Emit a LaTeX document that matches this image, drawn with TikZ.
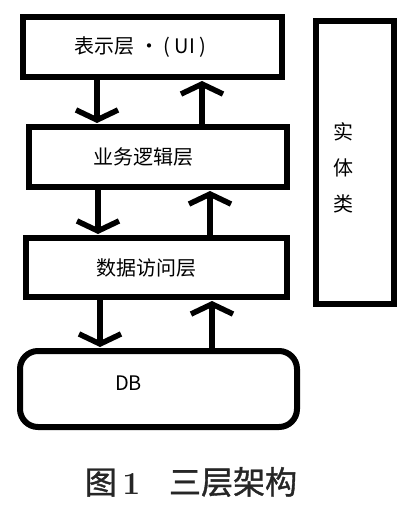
\documentclass[tikz,border=0pt]{standalone}
\usepackage{fontspec}
\newfontfamily\cjk{Noto Sans CJK SC}
\newfontfamily\capfont[FakeBold=1.2]{Noto Sans CJK SC}
\usetikzlibrary{arrows.meta}

\begin{document}
\begin{tikzpicture}[
  x=1pt, y=-1pt, font=\cjk\fontsize{20}{24}\selectfont,
  layer/.style={draw, line width=6pt, minimum width=#1, minimum height=60pt, inner sep=0pt},
  flow/.style={-{Straight Barb[length=10pt, width=42pt]}, line width=5.5pt, shorten >=1pt}
]
\useasboundingbox (0,0) rectangle (415,505);

\node[layer=259pt, label={[xshift=-12pt]center:表示层 · ( UI )}] (ui) at (152.5,47) {};
\node[layer=258pt, label={[xshift=-15pt]center:业务逻辑层}] (bll) at (158,157) {};
\node[layer=261pt, minimum height=59pt, label={[xshift=-10pt]center:数据访问层}] (dal) at (156.5,267.5) {};
\node[draw, line width=6pt, rounded corners=18pt, minimum width=277pt, minimum height=76pt,
      label={[xshift=-30pt, yshift=6pt]center:DB}] (db) at (158.5,389) {};
\node[layer=78pt, minimum height=283pt,
      label={[xshift=-12pt, yshift=-5pt, align=center, font=\cjk\fontsize{20}{36}\selectfont]center:实\\体\\类}] (entity) at (355,162.5) {};

\draw[flow] ([xshift=-55.5pt]ui.south) -- ([xshift=-55.5pt]ui.south |- bll.north);
\draw[flow] ([xshift=49.5pt]ui.south |- bll.north) -- ([xshift=49.5pt]ui.south);
\draw[flow] ([xshift=-60pt]bll.south) -- ([xshift=-60pt]bll.south |- dal.north);
\draw[flow] ([xshift=52pt]bll.south |- dal.north) -- ([xshift=52pt]bll.south);
\draw[flow] ([xshift=-56.5pt]dal.south) -- ([xshift=-56.5pt]dal.south |- db.north);
\draw[flow] ([xshift=55.5pt]dal.south |- db.north) -- ([xshift=55.5pt]dal.south);

\node[text=black!85] (caption) at (191,482) {\fontsize{32}{36}\selectfont\capfont 图\,{\rmfamily\bfseries 1}\hspace{0.9em}三层架构};
\end{tikzpicture}
\end{document}
